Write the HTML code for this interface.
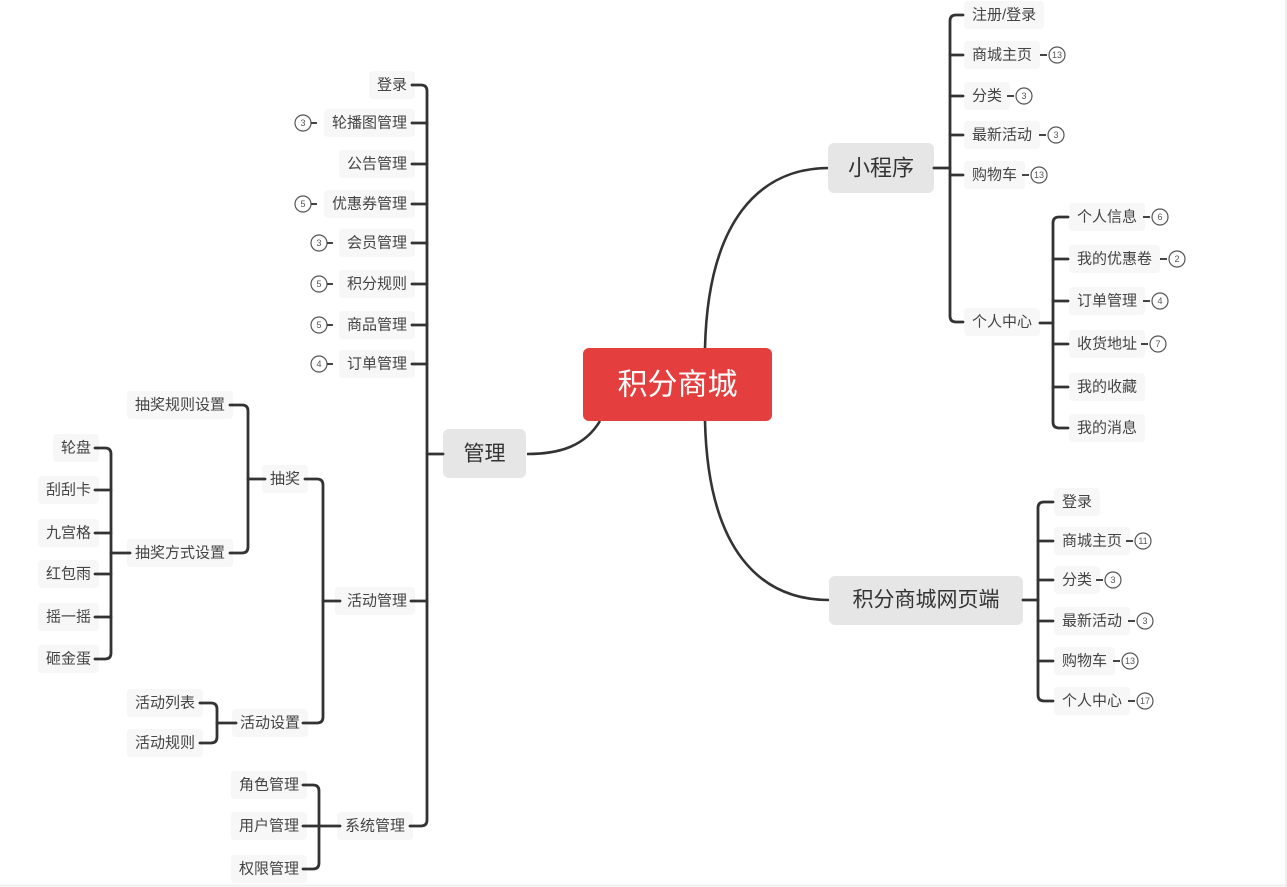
<!DOCTYPE html>
<html>
<head>
<meta charset="utf-8">
<style>
html,body{margin:0;padding:0;background:#fff;}
svg{display:block;}
text{font-family:"Liberation Sans","Noto Sans CJK SC",sans-serif;}
.l{font-size:15px;fill:#444;dominant-baseline:central;}
.e{text-anchor:end;}
.bg{fill:#f7f7f7;}
.ln{fill:none;stroke:#333;stroke-width:2.8;stroke-linecap:round;stroke-linejoin:round;}
.cv{fill:none;stroke:#333;stroke-width:2.6;}
.bd{fill:#fff;stroke:#555;stroke-width:1.2;}
.bt{font-size:9px;fill:#555;text-anchor:middle;dominant-baseline:central;}
.ds{stroke:#444;stroke-width:2;}
</style>
</head>
<body>
<svg width="1287" height="887" viewBox="0 0 1287 887" xmlns="http://www.w3.org/2000/svg">
<rect width="1287" height="887" fill="#fff"/>
<line x1="1286" y1="0" x2="1286" y2="887" stroke="#ececec" stroke-width="1.5"/>
<line x1="0" y1="885.5" x2="1287" y2="885.5" stroke="#ececec" stroke-width="1.5"/>

<g class="bg">
<rect x="964" y="1" width="80" height="28" rx="4"/>
<rect x="964" y="41" width="76" height="28" rx="4"/>
<rect x="964" y="82" width="46" height="28" rx="4"/>
<rect x="964" y="121" width="76" height="28" rx="4"/>
<rect x="964" y="161" width="61" height="28" rx="4"/>
<rect x="964" y="308" width="76" height="28" rx="4"/>
<rect x="1069" y="203" width="76" height="28" rx="4"/>
<rect x="1069" y="245" width="91" height="28" rx="4"/>
<rect x="1069" y="287" width="76" height="28" rx="4"/>
<rect x="1069" y="330" width="76" height="28" rx="4"/>
<rect x="1069" y="373" width="76" height="28" rx="4"/>
<rect x="1069" y="414" width="76" height="28" rx="4"/>
<rect x="1054" y="488" width="46" height="28" rx="4"/>
<rect x="1054" y="527" width="76" height="28" rx="4"/>
<rect x="1054" y="566" width="46" height="28" rx="4"/>
<rect x="1054" y="607" width="76" height="28" rx="4"/>
<rect x="1054" y="647" width="61" height="28" rx="4"/>
<rect x="1054" y="687" width="76" height="28" rx="4"/>
<rect x="369" y="71" width="46" height="28" rx="4"/>
<rect x="324" y="109" width="91" height="28" rx="4"/>
<rect x="339" y="150" width="76" height="28" rx="4"/>
<rect x="324" y="190" width="91" height="28" rx="4"/>
<rect x="339" y="229" width="76" height="28" rx="4"/>
<rect x="339" y="270" width="76" height="28" rx="4"/>
<rect x="339" y="311" width="76" height="28" rx="4"/>
<rect x="339" y="350" width="76" height="28" rx="4"/>
<rect x="335" y="587" width="80" height="28" rx="4"/>
<rect x="337" y="812" width="76" height="28" rx="4"/>
<rect x="262" y="465" width="46" height="28" rx="4"/>
<rect x="127" y="391" width="106" height="28" rx="4"/>
<rect x="127" y="539" width="106" height="28" rx="4"/>
<rect x="53" y="434" width="46" height="28" rx="4"/>
<rect x="38" y="476" width="61" height="28" rx="4"/>
<rect x="38" y="519" width="61" height="28" rx="4"/>
<rect x="38" y="560" width="61" height="28" rx="4"/>
<rect x="38" y="603" width="61" height="28" rx="4"/>
<rect x="38" y="645" width="61" height="28" rx="4"/>
<rect x="232" y="709" width="76" height="28" rx="4"/>
<rect x="127" y="689" width="76" height="28" rx="4"/>
<rect x="127" y="729" width="76" height="28" rx="4"/>
<rect x="231" y="771" width="76" height="28" rx="4"/>
<rect x="231" y="812" width="76" height="28" rx="4"/>
<rect x="231" y="855" width="76" height="28" rx="4"/>
</g>

<path class="cv" d="M705,348 C708,220 760,168 829,168"/>
<path class="cv" d="M705,421 C708,550 760,600 829,600"/>
<path class="cv" d="M600,421 C585,446 560,454 527,454"/>

<rect x="583" y="348" width="189" height="73" rx="6" fill="#e53e3e"/>
<text x="677.5" y="385" font-size="30" fill="#fff" text-anchor="middle" dominant-baseline="central">积分商城</text>
<rect x="828" y="143" width="106" height="50" rx="6" fill="#e6e6e6"/>
<text x="881" y="168" font-size="22" fill="#333" text-anchor="middle" dominant-baseline="central">小程序</text>
<rect x="829" y="576" width="194" height="49" rx="6" fill="#e6e6e6"/>
<text x="926" y="600" font-size="21" fill="#333" text-anchor="middle" dominant-baseline="central">积分商城网页端</text>
<rect x="443" y="429" width="83" height="49" rx="6" fill="#e6e6e6"/>
<text x="484.5" y="454" font-size="21" fill="#333" text-anchor="middle" dominant-baseline="central">管理</text>

<g class="ln">
<path d="M934,168 H950"/>
<path d="M963,15 H956 Q950,15 950,21 V316 Q950,322 956,322 H963"/>
<path d="M950,55 H963 M950,96 H963 M950,135 H963 M950,175 H963"/>
<path d="M1040,323 H1053"/>
<path d="M1068,217 H1059 Q1053,217 1053,223 V422 Q1053,428 1059,428 H1068"/>
<path d="M1053,259 H1068 M1053,301 H1068 M1053,344 H1068 M1053,387 H1068"/>
<path d="M1023,600 H1038"/>
<path d="M1053,502 H1044 Q1038,502 1038,508 V695 Q1038,701 1044,701 H1053"/>
<path d="M1038,541 H1053 M1038,580 H1053 M1038,621 H1053 M1038,661 H1053"/>
<path d="M443,454 H427"/>
<path d="M412,85 H421 Q427,85 427,91 V820 Q427,826 421,826 H410"/>
<path d="M412,123 H427 M412,164 H427 M412,204 H427 M412,243 H427 M412,284 H427 M412,325 H427 M412,364 H427 M411,601 H427"/>
<path d="M340,601 H323"/>
<path d="M305,479 H317 Q323,479 323,485 V717 Q323,723 317,723 H303"/>
<path d="M265,479 H248"/>
<path d="M230,405 H242 Q248,405 248,411 V547 Q248,553 242,553 H230"/>
<path d="M130,553 H111"/>
<path d="M95,448 H105 Q111,448 111,454 V653 Q111,659 105,659 H95"/>
<path d="M95,490 H111 M95,533 H111 M95,574 H111 M95,617 H111"/>
<path d="M236,723 H217"/>
<path d="M200,703 H211 Q217,703 217,709 V737 Q217,743 211,743 H200"/>
<path d="M340,826 H303"/>
<path d="M303,785 H313 Q319,785 319,791 V863 Q319,869 313,869 H303"/>
</g>

<g class="l">
<text x="972" y="15">注册/登录</text>
<text x="972" y="55">商城主页</text>
<text x="972" y="96">分类</text>
<text x="972" y="135">最新活动</text>
<text x="972" y="175">购物车</text>
<text x="972" y="322">个人中心</text>
<text x="1077" y="217">个人信息</text>
<text x="1077" y="259">我的优惠卷</text>
<text x="1077" y="301">订单管理</text>
<text x="1077" y="344">收货地址</text>
<text x="1077" y="387">我的收藏</text>
<text x="1077" y="428">我的消息</text>
<text x="1062" y="502">登录</text>
<text x="1062" y="541">商城主页</text>
<text x="1062" y="580">分类</text>
<text x="1062" y="621">最新活动</text>
<text x="1062" y="661">购物车</text>
<text x="1062" y="701">个人中心</text>
<text class="e" x="407" y="85">登录</text>
<text class="e" x="407" y="123">轮播图管理</text>
<text class="e" x="407" y="164">公告管理</text>
<text class="e" x="407" y="204">优惠券管理</text>
<text class="e" x="407" y="243">会员管理</text>
<text class="e" x="407" y="284">积分规则</text>
<text class="e" x="407" y="325">商品管理</text>
<text class="e" x="407" y="364">订单管理</text>
<text class="e" x="407" y="601">活动管理</text>
<text class="e" x="405" y="826">系统管理</text>
<text x="270" y="479">抽奖</text>
<text x="135" y="405">抽奖规则设置</text>
<text x="135" y="553">抽奖方式设置</text>
<text class="e" x="91" y="448">轮盘</text>
<text class="e" x="91" y="490">刮刮卡</text>
<text class="e" x="91" y="533">九宫格</text>
<text class="e" x="91" y="574">红包雨</text>
<text class="e" x="91" y="617">摇一摇</text>
<text class="e" x="91" y="659">砸金蛋</text>
<text x="240" y="723">活动设置</text>
<text x="135" y="703">活动列表</text>
<text x="135" y="743">活动规则</text>
<text x="239" y="785">角色管理</text>
<text x="239" y="826">用户管理</text>
<text x="239" y="869">权限管理</text>
</g>

<g>
<line class="ds" x1="1040" y1="55" x2="1047" y2="55"/><circle class="bd" cx="1057" cy="55" r="8"/><text class="bt" x="1057" y="55">13</text>
<line class="ds" x1="1007" y1="96" x2="1014" y2="96"/><circle class="bd" cx="1024" cy="96" r="8"/><text class="bt" x="1024" y="96">3</text>
<line class="ds" x1="1039" y1="135" x2="1046" y2="135"/><circle class="bd" cx="1056" cy="135" r="8"/><text class="bt" x="1056" y="135">3</text>
<line class="ds" x1="1022" y1="175" x2="1029" y2="175"/><circle class="bd" cx="1039" cy="175" r="8"/><text class="bt" x="1039" y="175">13</text>
<line class="ds" x1="1143" y1="217" x2="1150" y2="217"/><circle class="bd" cx="1160" cy="217" r="8"/><text class="bt" x="1160" y="217">6</text>
<line class="ds" x1="1160" y1="259" x2="1167" y2="259"/><circle class="bd" cx="1177" cy="259" r="8"/><text class="bt" x="1177" y="259">2</text>
<line class="ds" x1="1143" y1="301" x2="1150" y2="301"/><circle class="bd" cx="1160" cy="301" r="8"/><text class="bt" x="1160" y="301">4</text>
<line class="ds" x1="1141" y1="344" x2="1148" y2="344"/><circle class="bd" cx="1158" cy="344" r="8"/><text class="bt" x="1158" y="344">7</text>
<line class="ds" x1="1126" y1="541" x2="1133" y2="541"/><circle class="bd" cx="1143" cy="541" r="8"/><text class="bt" x="1143" y="541">11</text>
<line class="ds" x1="1096" y1="580" x2="1103" y2="580"/><circle class="bd" cx="1113" cy="580" r="8"/><text class="bt" x="1113" y="580">3</text>
<line class="ds" x1="1128" y1="621" x2="1135" y2="621"/><circle class="bd" cx="1145" cy="621" r="8"/><text class="bt" x="1145" y="621">3</text>
<line class="ds" x1="1113" y1="661" x2="1120" y2="661"/><circle class="bd" cx="1130" cy="661" r="8"/><text class="bt" x="1130" y="661">13</text>
<line class="ds" x1="1128" y1="701" x2="1135" y2="701"/><circle class="bd" cx="1145" cy="701" r="8"/><text class="bt" x="1145" y="701">17</text>
</g>
<g>
<circle class="bd" cx="303" cy="123" r="8"/><text class="bt" x="303" y="123">3</text><line class="ds" x1="311" y1="123" x2="317" y2="123"/>
<circle class="bd" cx="303" cy="204" r="8"/><text class="bt" x="303" y="204">5</text><line class="ds" x1="311" y1="204" x2="317" y2="204"/>
<circle class="bd" cx="319" cy="243" r="8"/><text class="bt" x="319" y="243">3</text><line class="ds" x1="327" y1="243" x2="333" y2="243"/>
<circle class="bd" cx="319" cy="284" r="8"/><text class="bt" x="319" y="284">5</text><line class="ds" x1="327" y1="284" x2="333" y2="284"/>
<circle class="bd" cx="319" cy="325" r="8"/><text class="bt" x="319" y="325">5</text><line class="ds" x1="327" y1="325" x2="333" y2="325"/>
<circle class="bd" cx="319" cy="364" r="8"/><text class="bt" x="319" y="364">4</text><line class="ds" x1="327" y1="364" x2="333" y2="364"/>
</g>
</svg>
</body>
</html>
